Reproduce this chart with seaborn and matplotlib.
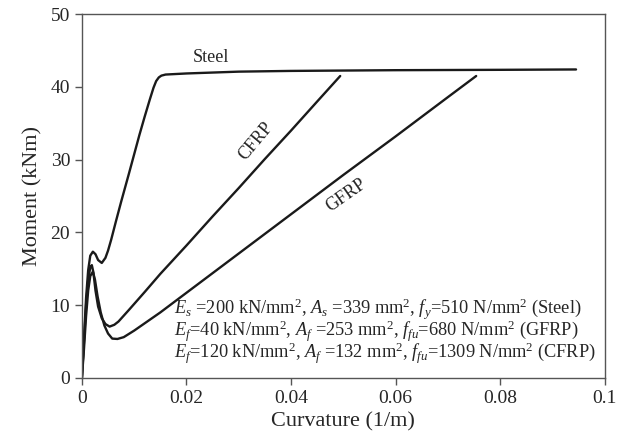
"""Moment-curvature curves for steel, GFRP and CFRP reinforced beams"""
import matplotlib
matplotlib.use("Agg")
import matplotlib.pyplot as plt
import seaborn as sns

# Steel
steel_curv = [0, 0.0004, 0.0008, 0.0012, 0.0016, 0.0021, 0.0026, 0.0031, 0.0038,
              0.0045, 0.005, 0.0056, 0.0065, 0.0075, 0.009, 0.011, 0.012, 0.013,
              0.0137, 0.0142, 0.0147, 0.0152, 0.016, 0.02, 0.03, 0.04, 0.06, 0.08,
              0.0945]
steel_moment = [0, 5.5, 11.0, 14.8, 16.8, 17.35, 17.0, 16.2, 15.8,
                16.5, 17.5, 19.0, 21.5, 24.2, 28.1, 33.4, 35.9, 38.3,
                39.9, 40.8, 41.3, 41.55, 41.7, 41.85, 42.1, 42.2, 42.3, 42.35,
                42.4]

# CFRP
cfrp_curv = [0, 0.0004, 0.0008, 0.0012, 0.0016, 0.0019, 0.0022, 0.0026, 0.0031,
             0.0038, 0.0045, 0.0053, 0.0062, 0.007, 0.009, 0.012, 0.015, 0.02,
             0.025, 0.03, 0.035, 0.04, 0.045, 0.0494]
cfrp_moment = [0, 5.0, 10.0, 13.5, 15.2, 15.5, 14.5, 12.0, 9.8,
               8.2, 7.4, 7.05, 7.3, 7.75, 9.35, 11.8, 14.3, 18.2,
               22.2, 26.1, 30.1, 34.0, 38.0, 41.5]

# GFRP
gfrp_curv = [0, 0.0004, 0.0008, 0.0012, 0.0016, 0.0021, 0.0025, 0.003, 0.0036,
             0.0043, 0.005, 0.0058, 0.0068, 0.008, 0.01, 0.015, 0.02, 0.03,
             0.04, 0.05, 0.06, 0.07, 0.0754]
gfrp_moment = [0, 4.0, 8.5, 12.0, 14.0, 14.6, 13.5, 11.2, 9.0,
               7.2, 6.1, 5.4, 5.35, 5.6, 6.5, 9.0, 11.7, 17.1,
               22.5, 27.9, 33.2, 38.6, 41.5]

x_ticks = [0, 0.02, 0.04, 0.06, 0.08, 0.1]
x_tick_labels = ["0", "0.02", "0.04", "0.06", "0.08", "0.1"]
y_ticks = [0, 10, 20, 30, 40, 50]

notes = [
    r"$E_s$ =200 kN/mm$^2$, $A_s$ =339 mm$^2$, $f_y$=510 N/mm$^2$ (Steel)",
    r"$E_f$=40 kN/mm$^2$, $A_f$ =253 mm$^2$, $f_{fu}$=680 N/mm$^2$ (GFRP)",
    r"$E_f$=120 kN/mm$^2$, $A_f$ =132 mm$^2$, $f_{fu}$=1309 N/mm$^2$ (CFRP)",
]


def main():
    sns.set_style("ticks")
    plt.rcParams["font.family"] = ["Liberation Serif", "DejaVu Serif"]
    plt.rcParams["mathtext.fontset"] = "custom"
    plt.rcParams["mathtext.rm"] = "Liberation Serif"
    plt.rcParams["mathtext.it"] = "Liberation Serif:italic"

    fig = plt.figure(figsize=(6.3, 4.43), dpi=100)
    ax = fig.add_axes([0.130, 0.147, 0.830, 0.821])

    line_kw = dict(color="#1a1a1a", linewidth=1.7, sort=False, estimator=None)
    sns.lineplot(x=steel_curv, y=steel_moment, ax=ax, **line_kw)
    sns.lineplot(x=cfrp_curv, y=cfrp_moment, ax=ax, **line_kw)
    sns.lineplot(x=gfrp_curv, y=gfrp_moment, ax=ax, **line_kw)

    ax.set_xlim(0, 0.1)
    ax.set_ylim(0, 50)
    ax.set_xticks(x_ticks)
    ax.set_xticklabels(x_tick_labels)
    ax.set_yticks(y_ticks)
    ax.tick_params(labelsize=14, length=5, width=1, color="#555555", direction="out")
    for s in ax.spines.values():
        s.set_color("#555555")
        s.set_linewidth(1)

    ax.set_xlabel("Curvature (1/m)", fontsize=16, labelpad=4)
    ax.set_ylabel("Moment (kNm)", fontsize=16, labelpad=6)

    # curve labels
    ax.text(0.0246, 44.0, "Steel", fontsize=13, ha="center", va="center")
    ax.text(0.0332, 32.5, "CFRP", fontsize=13, ha="center", va="center", rotation=50)
    ax.text(0.0505, 25.1, "GFRP", fontsize=13, ha="center", va="center", rotation=35)

    # material properties block
    ax.text(0.176, 0.054, "\n".join(notes), transform=ax.transAxes,
            fontsize=13.2, va="baseline", ha="left", linespacing=0.8)

    fig.savefig("out.png", dpi=100)


if __name__ == '__main__':
    main()
